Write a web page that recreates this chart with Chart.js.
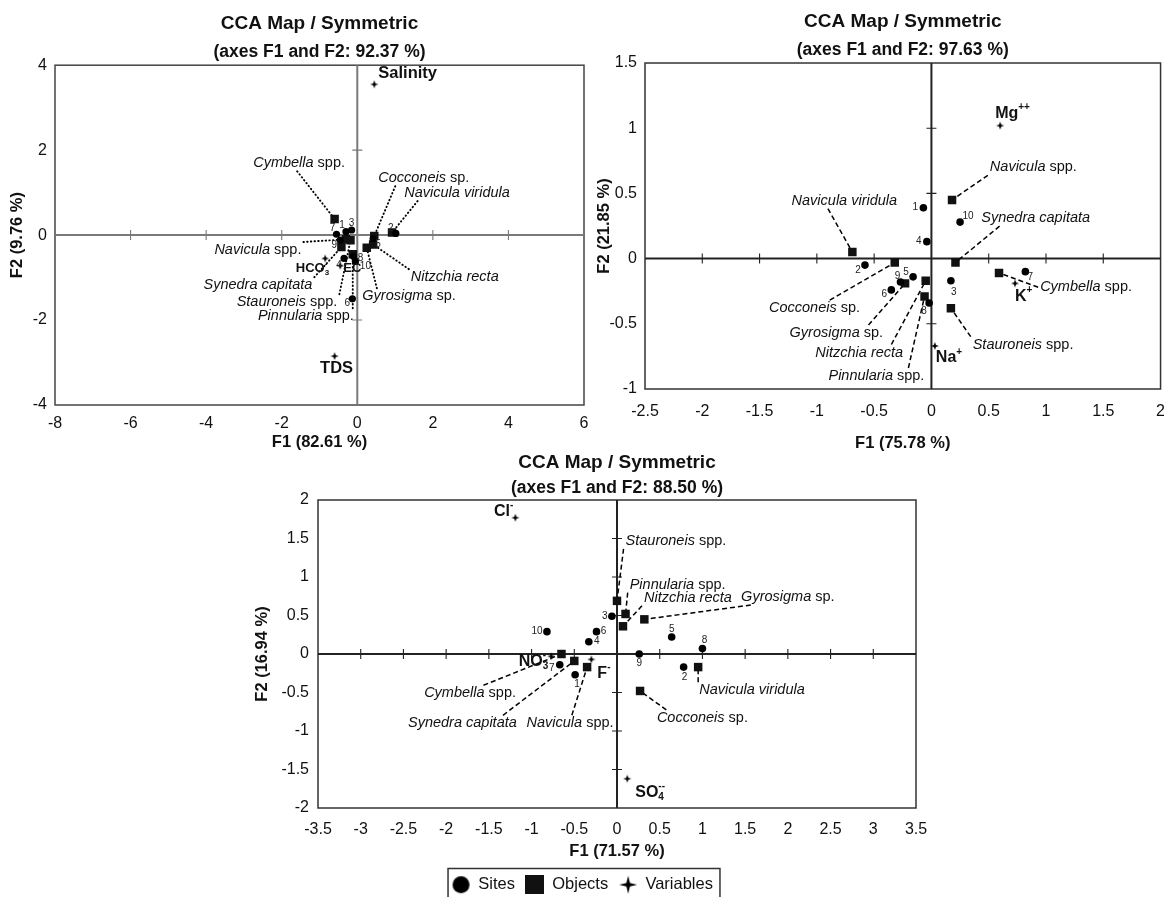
<!DOCTYPE html>
<html><head><meta charset="utf-8">
<script src="https://cdn.jsdelivr.net/npm/chart.js@4.4.1/dist/chart.umd.min.js"></script>
<style>
html,body{margin:0;padding:0;background:#fff;width:1164px;height:897px;overflow:hidden;position:relative;}
canvas{position:absolute;}
</style></head><body>
<canvas id="c1" width="600" height="470" style="left:0;top:0"></canvas>
<canvas id="c2" width="588" height="460" style="left:590px;top:0"></canvas>
<canvas id="c3" width="734" height="463" style="left:220px;top:440px"></canvas>
<script>
// ================= DATA =================
const siteNames = ['1','2','3','4','5','6','7','8','9','10'];
const legendNames = ['Sites','Objects','Variables'];

// --- Map 1 ---
const m1Title = 'CCA Map / Symmetric';
const m1Subtitle = '(axes F1 and F2: 92.37 %)';
const m1XTitle = 'F1 (82.61 %)';
const m1YTitle = 'F2 (9.76 %)';
const m1XTicks = [-8,-6,-4,-2,0,2,4,6];
const m1YTicks = [-4,-2,0,2,4];
const m1SiteX = [-0.30, 1.02, -0.15, -0.35, 0.42, -0.13, -0.55, -0.10, -0.45, -0.05];
const m1SiteY = [0.08, 0.04, 0.12, -0.55, -0.08, -1.50, 0.02, -0.50, -0.12, -0.62];
const m1ObjNames = ['Cymbella spp.','Cocconeis sp.','Navicula viridula','Navicula spp.','Synedra capitata','Stauroneis spp.','Pinnularia spp.','Gyrosigma sp.','Nitzchia recta'];
const m1ObjX = [-0.60, 0.45, 0.92, -0.30, -0.42, -0.18, -0.12, 0.25, 0.42];
const m1ObjY = [0.38, -0.02, 0.06, -0.10, -0.28, -0.12, -0.45, -0.30, -0.22];
const m1VarNames = ['Salinity','TDS','HCO₃⁻','EC'];
const m1VarX = [0.45, -0.60, -0.85, -0.45];
const m1VarY = [3.55, -2.85, -0.55, -0.72];

// --- Map 2 ---
const m2Title = 'CCA Map / Symmetric';
const m2Subtitle = '(axes F1 and F2: 97.63 %)';
const m2XTitle = 'F1 (75.78 %)';
const m2YTitle = 'F2 (21.85 %)';
const m2XTicks = [-2.5,-2,-1.5,-1,-0.5,0,0.5,1,1.5,2];
const m2YTicks = [-1,-0.5,0,0.5,1,1.5];
const m2SiteX = [-0.07, -0.58, 0.17, -0.04, -0.16, -0.35, 0.82, -0.02, -0.27, 0.25];
const m2SiteY = [0.39, -0.05, -0.17, 0.13, -0.14, -0.24, -0.10, -0.34, -0.18, 0.28];
const m2ObjNames = ['Navicula spp.','Navicula viridula','Synedra capitata','Cocconeis sp.','Gyrosigma sp.','Nitzchia recta','Pinnularia spp.','Stauroneis spp.','Cymbella spp.'];
const m2ObjX = [0.18, -0.69, 0.21, -0.32, -0.23, -0.05, -0.06, 0.17, 0.59];
const m2ObjY = [0.45, 0.05, -0.03, -0.03, -0.19, -0.17, -0.29, -0.38, -0.11];
const m2VarNames = ['Mg⁺⁺','K⁺','Na⁺'];
const m2VarX = [0.60, 0.73, 0.03];
const m2VarY = [1.02, -0.19, -0.67];

// --- Map 3 ---
const m3Title = 'CCA Map / Symmetric';
const m3Subtitle = '(axes F1 and F2: 88.50 %)';
const m3XTitle = 'F1 (71.57 %)';
const m3YTitle = 'F2 (16.94 %)';
const m3XTicks = [-3.5,-3,-2.5,-2,-1.5,-1,-0.5,0,0.5,1,1.5,2,2.5,3,3.5];
const m3YTicks = [-2,-1.5,-1,-0.5,0,0.5,1,1.5,2];
const m3SiteX = [-0.49, 0.78, -0.06, -0.33, 0.64, -0.24, -0.67, 1.00, 0.26, -0.82];
const m3SiteY = [-0.27, -0.17, 0.49, 0.16, 0.22, 0.29, -0.14, 0.07, 0.00, 0.29];
const m3ObjNames = ['Stauroneis spp.','Pinnularia spp.','Nitzchia recta','Gyrosigma sp.','Navicula viridula','Cocconeis sp.','Cymbella spp.','Synedra capitata','Navicula spp.'];
const m3ObjX = [0.00, 0.10, 0.07, 0.32, 0.95, 0.27, -0.65, -0.50, -0.35];
const m3ObjY = [0.69, 0.52, 0.36, 0.45, -0.17, -0.48, 0.00, -0.09, -0.17];
const m3VarNames = ['Cl⁻','NO₃⁻','F⁻','SO₄⁻⁻'];
const m3VarX = [-1.19, -0.77, -0.30, 0.12];
const m3VarY = [1.77, -0.03, -0.07, -1.62];

// ================= LAYOUT (placement of annotations, styles) =================
const FONT = '"Liberation Sans", Arial, Helvetica, sans-serif';
const INK = '#111';

const L1 = {
  padding: {left:4, right:16, top:0, bottom:18}, yAxisW: 51, xAxisH: 47, xTickPad: 9, yTickPad: 8, xTitlePadB: 0,
  titlePad: {top:12.6, bottom:2}, subPad: {top:4.3, bottom:2.5},
  zeroColor: '#7a7a7a', zeroWidth: 2, boxColor: '#444', tickHalf: 5,
  dash: [0.5, 3.2], cap: 'round', leaderWidth: 1.9,
  siteR: 3.6, objR: 6, varR: 4,
  objLabels: {
    'Cymbella spp.': [-1.54, 1.69, 0.48, 'b'], 'Cocconeis sp.': [1.76, 1.34, 0.2, 'b'],
    'Navicula viridula': [2.64, 0.99, 0.14, 'b'], 'Navicula spp.': [-2.63, -0.35],
    'Synedra capitata': [-2.63, -1.18], 'Stauroneis spp.': [-1.86, -1.58],
    'Pinnularia spp.': [-1.36, -1.91], 'Gyrosigma sp.': [1.37, -1.44, 0.17, 't'], 'Nitzchia recta': [2.58, -0.99]
  },
  siteOff: [[-4,-6],[-5,-5],[0,-7],[-5,7],[5,6],[-5,4],[-4,-6],[7,2],[-6,5],[10,5]],
  varLabels: {'Salinity':[4,-11,'left',16.5], 'TDS':[2,12,'center',16.5], 'HCO₃⁻':[4,10,'right',13], 'EC':[3,3,'left',13]}
};
const L2 = {
  padding: {left:1, right:4, top:0, bottom:7}, yAxisW: 54, xAxisH: 64, xTickPad: 13, yTickPad: 8, xTitlePadB: 0,
  titlePad: {top:10.6, bottom:2}, subPad: {top:4.1, bottom:2.5},
  zeroColor: '#222', zeroWidth: 2, boxColor: '#333', tickHalf: 5,
  dash: [5, 3], cap: 'butt', leaderWidth: 1.5,
  siteR: 3.8, objR: 6, varR: 4,
  objLabels: {
    'Navicula spp.': [0.89, 0.70], 'Navicula viridula': [-0.76, 0.445, 0.35, 'b'],
    'Synedra capitata': [0.91, 0.31, 0.18, 'b'], 'Cocconeis sp.': [-1.02, -0.38, 0.66, 't'],
    'Gyrosigma sp.': [-0.83, -0.57, 0.83, 't'], 'Nitzchia recta': [-0.63, -0.72, 0.85, 't'],
    'Pinnularia spp.': [-0.48, -0.90, 0.82, 't'], 'Stauroneis spp.': [0.80, -0.66], 'Cymbella spp.': [1.35, -0.22, 0, 'l']
  },
  siteOff: [[-8,0],[-7,5],[3,11],[-8,0],[-7,-5],[-7,4],[5,6],[-5,8],[-3,-6],[8,-6]],
  varLabels: {'Mg⁺⁺':[-5,-12,'left',16], 'K⁺':[0,13,'left',16], 'Na⁺':[1,12,'left',16]}
};
const L3 = {
  padding: {left:29, right:38, top:0, bottom:0}, yAxisW: 69, xAxisH: 57.5, xTickPad: 12, yTickPad: 9, xTitlePadB: 4,
  titlePad: {top:11.6, bottom:2}, subPad: {top:1.1, bottom:1.5},
  zeroColor: '#222', zeroWidth: 2, boxColor: '#333', tickHalf: 5,
  dash: [5, 3], cap: 'butt', leaderWidth: 1.5,
  siteR: 3.8, objR: 6, varR: 4,
  objLabels: {
    'Stauroneis spp.': [0.69, 1.47], 'Pinnularia spp.': [0.71, 0.90], 'Nitzchia recta': [0.83, 0.73],
    'Gyrosigma sp.': [2.0, 0.74, 0.12, 'b'], 'Navicula viridula': [1.58, -0.47],
    'Cocconeis sp.': [1.0, -0.83, 0.12, 't'], 'Cymbella spp.': [-1.72, -0.51, 0.64, 't'],
    'Synedra capitata': [-1.81, -0.90, 0.86, 't'], 'Navicula spp.': [-0.55, -0.90, 0.52, 't']
  },
  siteOff: [[2,9],[1,10],[-7,0],[8,0],[0,-8],[7,0],[-8,3],[2,-8],[0,9],[-10,0]],
  varLabels: {'Cl⁻':[-2,-6,'right',16], 'NO₃⁻':[-3,5,'right',16], 'F⁻':[6,14,'left',16], 'SO₄⁻⁻':[8,14,'left',16]},
  legend: true
};

// ================= HELPERS =================
function starCanvas(r, waist) {
  const s = Math.ceil(r * 2 + 2); const c = document.createElement('canvas'); c.width = c.height = s;
  const g = c.getContext('2d'); const m = s / 2;
  g.fillStyle = '#000'; g.beginPath();
  g.moveTo(m, m - r); g.lineTo(m + waist, m - waist); g.lineTo(m + r, m); g.lineTo(m + waist, m + waist);
  g.lineTo(m, m + r); g.lineTo(m - waist, m + waist); g.lineTo(m - r, m); g.lineTo(m - waist, m - waist);
  g.closePath(); g.fill();
  return c;
}
function dotCanvas(d) {
  const c = document.createElement('canvas'); c.width = c.height = d + 2;
  const g = c.getContext('2d'); g.fillStyle = '#000'; g.beginPath(); g.arc((d + 2) / 2, (d + 2) / 2, d / 2, 0, Math.PI * 2); g.fill();
  return c;
}
function squareCanvas(s) {
  const c = document.createElement('canvas'); c.width = c.height = s;
  const g = c.getContext('2d'); g.fillStyle = '#111'; g.fillRect(0, 0, s, s);
  return c;
}
function objParts(name) {
  const m = name.match(/^(.*?)( spp?\.)$/);
  return m ? [[m[1], 'italic'], [m[2], 'normal']] : [[name, 'italic']];
}
const OBJ_SIZE = 14.5;
function measureObj(ctx, name) {
  let w = 0;
  const parts = objParts(name).map(([t, st]) => {
    ctx.font = `${st} ${OBJ_SIZE}px ${FONT}`; const pw = ctx.measureText(t).width; w += pw; return {t, st, w: pw};
  });
  return {parts, w};
}
function objBox(ctx, name, cx, cy) {
  const m = measureObj(ctx, name);
  return {m, box: [cx - m.w / 2 - 2, cy - 8, cx + m.w / 2 + 2, cy + 8]};
}
function richSegs(name) {
  const SUB = '₀₁₂₃₄₅₆₇₈₉'; const segs = [];
  for (const ch of name) {
    let kind = 'n', c = ch;
    if (SUB.includes(ch)) { kind = 'sub'; c = String(SUB.indexOf(ch)); }
    else if (ch === '⁺') { kind = 'sup'; c = '+'; }
    else if (ch === '⁻') { kind = 'sup'; c = '-'; }
    const last = segs[segs.length - 1];
    if (last && last.kind === kind) last.text += c; else segs.push({kind, text: c});
  }
  return segs;
}
function drawRich(ctx, name, x, y, size, align) {
  const segs = richSegs(name); let cur = 0; const out = [];
  segs.forEach((s, i) => {
    const f = s.kind === 'n' ? size : Math.round(size * 0.62);
    ctx.font = `bold ${f}px ${FONT}`;
    const w = ctx.measureText(s.text).width;
    let sx = cur;
    if (s.kind === 'sup' && i > 0 && segs[i - 1].kind === 'sub') sx = out[i - 1].x;
    out.push({...s, x: sx, f});
    cur = Math.max(cur, sx + w);
  });
  let x0 = align === 'left' ? x : align === 'right' ? x - cur : x - cur / 2;
  ctx.textAlign = 'left'; ctx.textBaseline = 'middle'; ctx.fillStyle = INK;
  out.forEach(s => {
    ctx.font = `bold ${s.f}px ${FONT}`;
    const dy = s.kind === 'sup' ? -size * 0.38 : s.kind === 'sub' ? size * 0.3 : 0;
    ctx.fillText(s.text, x0 + s.x, y + dy);
  });
}

const CFG = {};
const annotPlugin = {
  id: 'annot',
  beforeDatasetsDraw(chart) {
    const C = CFG[chart.canvas.id]; const L = C.L;
    const {ctx, chartArea: a} = chart; const xs = chart.scales.x, ys = chart.scales.y;
    const x0 = xs.getPixelForValue(0), y0 = ys.getPixelForValue(0);
    ctx.save();
    ctx.strokeStyle = L.boxColor; ctx.lineWidth = 1.5;
    ctx.strokeRect(a.left, a.top, a.width, a.height);
    ctx.strokeStyle = L.zeroColor; ctx.lineWidth = L.zeroWidth;
    ctx.beginPath(); ctx.moveTo(a.left, y0); ctx.lineTo(a.right, y0); ctx.moveTo(x0, a.top); ctx.lineTo(x0, a.bottom); ctx.stroke();
    ctx.lineWidth = 1.1; ctx.beginPath();
    xs.ticks.forEach(t => { const p = xs.getPixelForValue(t.value); if (t.value !== 0 && p > a.left + 2 && p < a.right - 2) { ctx.moveTo(p, y0 - L.tickHalf); ctx.lineTo(p, y0 + L.tickHalf); } });
    ys.ticks.forEach(t => { const p = ys.getPixelForValue(t.value); if (t.value !== 0 && p > a.top + 2 && p < a.bottom - 2) { ctx.moveTo(x0 - L.tickHalf, p); ctx.lineTo(x0 + L.tickHalf, p); } });
    ctx.stroke();
    // leader lines
    ctx.strokeStyle = '#000'; ctx.lineWidth = L.leaderWidth; ctx.setLineDash(L.dash); ctx.lineCap = L.cap;
    C.d.objNames.forEach((name, i) => {
      const spec = L.objLabels[name]; if (!spec) return;
      const mx = xs.getPixelForValue(C.d.objX[i]), my = ys.getPixelForValue(C.d.objY[i]);
      const {box} = objBox(ctx, name, xs.getPixelForValue(spec[0]), ys.getPixelForValue(spec[1]));
      const [bx0, by0, bx1, by1] = box; let sx, sy; const e = spec[3];
      if (e === 't') { sx = bx0 + spec[2] * (bx1 - bx0); sy = by0; }
      else if (e === 'b') { sx = bx0 + spec[2] * (bx1 - bx0); sy = by1; }
      else if (e === 'l') { sx = bx0; sy = (by0 + by1) / 2; }
      else if (e === 'r') { sx = bx1; sy = (by0 + by1) / 2; }
      else { sx = Math.min(Math.max(mx, bx0), bx1); sy = Math.min(Math.max(my, by0), by1); }
      ctx.beginPath(); ctx.moveTo(sx, sy); ctx.lineTo(mx, my); ctx.stroke();
    });
    ctx.restore();
  },
  afterDatasetsDraw(chart) {
    const C = CFG[chart.canvas.id]; const L = C.L; const d = C.d;
    const {ctx} = chart; const xs = chart.scales.x, ys = chart.scales.y;
    ctx.save();
    d.objNames.forEach(name => {
      const spec = L.objLabels[name]; if (!spec) return;
      const cx = xs.getPixelForValue(spec[0]), cy = ys.getPixelForValue(spec[1]);
      const {m} = objBox(ctx, name, cx, cy);
      let x = cx - m.w / 2; ctx.textAlign = 'left'; ctx.textBaseline = 'middle'; ctx.fillStyle = INK;
      m.parts.forEach(p => { ctx.font = `${p.st} ${OBJ_SIZE}px ${FONT}`; ctx.fillText(p.t, x, cy); x += p.w; });
    });
    ctx.font = `10px ${FONT}`; ctx.textAlign = 'center'; ctx.textBaseline = 'middle'; ctx.fillStyle = '#222';
    siteNames.forEach((s, i) => {
      const px = xs.getPixelForValue(d.siteX[i]), py = ys.getPixelForValue(d.siteY[i]);
      const o = L.siteOff[i]; ctx.fillText(s, px + o[0], py + o[1]);
    });
    d.varNames.forEach((name, i) => {
      const v = L.varLabels[name]; if (!v) return;
      const px = xs.getPixelForValue(d.varX[i]), py = ys.getPixelForValue(d.varY[i]);
      drawRich(ctx, name, px + v[0], py + v[1], v[3], v[2]);
    });
    ctx.restore();
  },
  afterDraw(chart) {
    const C = CFG[chart.canvas.id]; if (!C.L.legend) return;
    const lg = chart.legend; const hb = lg.legendHitBoxes; if (!hb || !hb.length) return;
    const left = Math.min(...hb.map(h => h.left)) - 4;
    const right = Math.max(...hb.map(h => h.left + h.width)) + 7;
    const top = hb[0].top - 8;
    const ctx = chart.ctx; ctx.save(); ctx.strokeStyle = '#333'; ctx.lineWidth = 1.5;
    ctx.strokeRect(left, top, right - left, chart.height - top + 20); ctx.restore();
  }
};

function buildChart(id, d, L) {
  CFG[id] = {d, L};
  const star = starCanvas(L.varR, 1.1);
  const legendStyles = [dotCanvas(17), squareCanvas(19), starCanvas(9, 1.8)];
  const cfg = {
    type: 'scatter',
    data: { datasets: [
      { label: legendNames[0], data: d.siteX.map((x, i) => ({x, y: d.siteY[i]})), pointStyle: 'circle', pointRadius: L.siteR, backgroundColor: '#000', borderWidth: 0 },
      { label: legendNames[1], data: d.objX.map((x, i) => ({x, y: d.objY[i]})), pointStyle: 'rect', pointRadius: L.objR, backgroundColor: '#111', borderWidth: 0 },
      { label: legendNames[2], data: d.varX.map((x, i) => ({x, y: d.varY[i]})), pointStyle: star, pointRadius: L.varR, backgroundColor: '#000', borderWidth: 0 }
    ]},
    options: {
      responsive: false, animation: false, devicePixelRatio: 1, events: [],
      layout: { padding: L.padding },
      scales: {
        x: {
          type: 'linear', position: 'bottom', min: d.xTicks[0], max: d.xTicks[d.xTicks.length - 1],
          afterBuildTicks: s => { s.ticks = d.xTicks.map(v => ({value: v})); },
          afterFit: s => { s.height = L.xAxisH; },
          grid: {display: false, drawTicks: false}, border: {display: false},
          ticks: {autoSkip: false, maxRotation: 0, padding: L.xTickPad, color: INK, font: {family: FONT, size: 16}, callback: v => String(v)},
          title: {display: true, text: d.xTitle, color: INK, font: {family: FONT, size: 16.5, weight: 'bold'}, padding: {top: 0, bottom: L.xTitlePadB}}
        },
        y: {
          type: 'linear', position: 'left', min: d.yTicks[0], max: d.yTicks[d.yTicks.length - 1],
          afterBuildTicks: s => { s.ticks = d.yTicks.map(v => ({value: v})); },
          afterFit: s => { s.width = L.yAxisW; },
          grid: {display: false, drawTicks: false}, border: {display: false},
          ticks: {autoSkip: false, padding: L.yTickPad, color: INK, font: {family: FONT, size: 16}, callback: v => String(v)},
          title: {display: true, text: d.yTitle, color: INK, font: {family: FONT, size: 16.5, weight: 'bold'}, padding: {top: 4, bottom: 0}}
        }
      },
      plugins: {
        title: {display: true, text: d.title, fullSize: false, color: INK, font: {family: FONT, size: 19, weight: 'bold'}, padding: L.titlePad},
        subtitle: {display: true, text: d.subtitle, fullSize: false, color: INK, font: {family: FONT, size: 17.5, weight: 'bold'}, padding: L.subPad},
        tooltip: {enabled: false},
        legend: L.legend ? {
          display: true, position: 'bottom',
          labels: {
            usePointStyle: true, pointStyleWidth: 18, padding: 11, color: INK, font: {family: FONT, size: 16.5},
            generateLabels: () => legendNames.map((t, i) => ({text: t, fillStyle: '#000', strokeStyle: '#000', lineWidth: 0, pointStyle: legendStyles[i], hidden: false, datasetIndex: i, fontColor: INK}))
          }
        } : {display: false}
      }
    },
    plugins: [annotPlugin]
  };
  return new Chart(document.getElementById(id), cfg);
}

Chart.defaults.font.family = FONT;
buildChart('c1', {title: m1Title, subtitle: m1Subtitle, xTitle: m1XTitle, yTitle: m1YTitle, xTicks: m1XTicks, yTicks: m1YTicks,
  siteX: m1SiteX, siteY: m1SiteY, objNames: m1ObjNames, objX: m1ObjX, objY: m1ObjY, varNames: m1VarNames, varX: m1VarX, varY: m1VarY}, L1);
buildChart('c2', {title: m2Title, subtitle: m2Subtitle, xTitle: m2XTitle, yTitle: m2YTitle, xTicks: m2XTicks, yTicks: m2YTicks,
  siteX: m2SiteX, siteY: m2SiteY, objNames: m2ObjNames, objX: m2ObjX, objY: m2ObjY, varNames: m2VarNames, varX: m2VarX, varY: m2VarY}, L2);
buildChart('c3', {title: m3Title, subtitle: m3Subtitle, xTitle: m3XTitle, yTitle: m3YTitle, xTicks: m3XTicks, yTicks: m3YTicks,
  siteX: m3SiteX, siteY: m3SiteY, objNames: m3ObjNames, objX: m3ObjX, objY: m3ObjY, varNames: m3VarNames, varX: m3VarX, varY: m3VarY}, L3);
</script>
</body></html>
